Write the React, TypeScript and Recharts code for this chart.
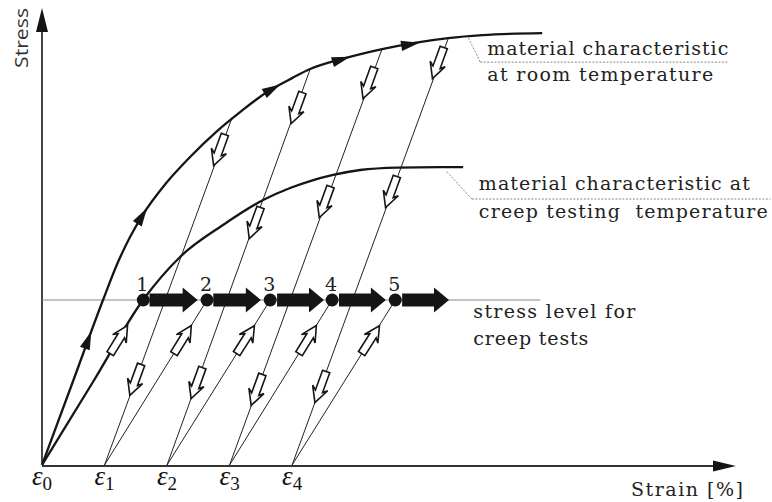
import React from 'react';
import { ComposedChart, Line, Scatter, XAxis, YAxis, ReferenceLine } from 'recharts';

// strain: one unit = one permanent-strain step ε_i; stress: creep level = 100
const epsTicks = [0, 1, 2, 3, 4];

// material characteristic at room temperature
const roomStrain = [0, 0.48, 0.976, 1.216, 1.408, 1.6, 2.0, 2.368, 2.8, 3.168, 3.6, 4.0, 4.288, 4.8, 5.44, 6.496, 7.04, 8.0];
const roomStress = [0, 49.1, 100, 123, 138.2, 150.9, 171.5, 186.7, 202.4, 213.9, 226.1, 234.5, 240, 246.1, 252.1, 258.8, 260.6, 261.8];

// material characteristic at creep testing temperature
const hotStrain = [0, 0.81, 1.616, 2.208, 2.896, 3.536, 3.968, 4.288, 4.656, 5.088, 5.68, 6.368, 6.736];
const hotStress = [0, 50, 100, 126.1, 145.5, 160.6, 167.9, 172.1, 175.8, 178.8, 180.3, 180.6, 180.6];

const stressLevel = 100;
const stressLineEnd = 7.97;

// creep test points 1..5
const testStrain = [1.62, 2.64, 3.65, 4.64, 5.65];

// creep increments at constant stress
const creepFrom = [1.72, 2.74, 3.76, 4.75, 5.76];
const creepTo = [2.49, 3.5, 4.51, 5.5, 6.51];

// elastic unloading at room temperature: upper curve -> ε1..ε4
const unloadTopStrain = [3.04, 4.29, 5.44, 6.5];
const unloadTopStress = [210.5, 240, 252.3, 258.8];

// hollow arrows: [tail strain, tail stress, head strain, head stress]
const unloadArrows = [
  [2.92, 199.8, 2.75, 182.0],
  [1.58, 60.4, 1.41, 42.7],
  [4.16, 225.2, 3.99, 207.5],
  [3.49, 155.5, 3.32, 137.8],
  [2.56, 58.5, 2.39, 40.8],
  [5.31, 240.4, 5.14, 222.6],
  [4.61, 168.2, 4.44, 150.5],
  [3.52, 54.4, 3.35, 36.6],
  [6.42, 252.5, 6.25, 234.8],
  [5.67, 174.3, 5.5, 156.6],
  [4.54, 56.1, 4.37, 38.4],
];
const reloadArrows = [
  [1.1, 68, 1.36, 84],
  [2.12, 68, 2.38, 84],
  [3.12, 68, 3.39, 84],
  [4.12, 68, 4.38, 84],
  [5.12, 68, 5.39, 84],
];

// loading direction marks on the room temperature curve
const curveArrows = [
  [0.686, 70.7, 0.786, 80.8],
  [1.52, 146.0, 1.68, 155.8],
  [3.555, 225.2, 3.805, 230.5],
  [4.646, 244.2, 4.922, 247.4],
  [5.746, 254.1, 6.03, 255.9],
];

// leader lines for the curve captions
const roomLeader = [[6.82, 258.8], [7.01, 244.2], [10.98, 244.2]];
const hotLeader = [[6.475, 177.8], [6.875, 161.2], [11.65, 161.2]];

const toPoints = (xs: number[], ys: number[]) => xs.map((x, i) => ({ x, y: ys[i] }));
const seg = (a: number[], b: number[]) => [{ x: a[0], y: a[1] }, { x: b[0], y: b[1] }];

const roomCurve = toPoints(roomStrain, roomStress);
const hotCurve = toPoints(hotStrain, hotStress);
const testPoints = testStrain.map((x, i) => ({ x, y: stressLevel, n: i + 1 }));

const INK = '#151515';
const SERIF = '"DejaVu Serif", serif';

const poly = (pts: number[][]) => pts.map((p) => p.join(',')).join(' ');
const angleOf = (p: any) => (Math.atan2(p.y2 - p.y1, p.x2 - p.x1) * 180) / Math.PI;

function HollowArrow(p: any) {
  const cx = (p.x1 + p.x2) / 2;
  const cy = (p.y1 + p.y2) / 2;
  const t = 16.5;
  const b = t - 12;
  const pts = [[-t, -3.8], [b, -3.8], [b - 3.5, -8], [t, 0], [b - 3.5, 8], [b, 3.8], [-t, 3.8]];
  return (
    <polygon
      points={poly(pts)}
      transform={`translate(${cx} ${cy}) rotate(${angleOf(p)})`}
      fill="#fff"
      stroke={INK}
      strokeWidth={1.6}
    />
  );
}

function CreepArrow(p: any) {
  const len = Math.hypot(p.x2 - p.x1, p.y2 - p.y1);
  const h = len - 15;
  const pts = [[0, -6.5], [h, -6.5], [h, -12.5], [len, 0], [h, 12.5], [h, 6.5], [0, 6.5]];
  return (
    <polygon
      points={poly(pts)}
      transform={`translate(${p.x1} ${p.y1}) rotate(${angleOf(p)})`}
      fill={INK}
    />
  );
}

function CurveHead(p: any) {
  const cx = (p.x1 + p.x2) / 2;
  const cy = (p.y1 + p.y2) / 2;
  return (
    <polygon
      points={poly([[9.5, 0], [-9, -5.2], [-9, 5.2]])}
      transform={`translate(${cx} ${cy}) rotate(${angleOf(p)})`}
      fill={INK}
    />
  );
}

function Caption({ x, y, width, children }: any) {
  return (
    <text
      x={x}
      y={y}
      fontFamily={SERIF}
      fontSize={19}
      fill="#222"
      textLength={width}
      lengthAdjust="spacing"
      style={{ whiteSpace: 'pre' }}
    >
      {children}
    </text>
  );
}

function RoomCaption(p: any) {
  return (
    <g>
      <line x1={p.x1} y1={p.y1} x2={p.x2} y2={p.y2} stroke="#888" strokeWidth={1} strokeDasharray="2 1.5" />
      <Caption x={p.x1 + 7} y={p.y1 - 7} width={241}>material characteristic</Caption>
      <Caption x={p.x1 + 7} y={p.y1 + 19} width={226}>at room temperature</Caption>
    </g>
  );
}

function HotCaption(p: any) {
  return (
    <g>
      <line x1={p.x1} y1={p.y1} x2={p.x2} y2={p.y2} stroke="#888" strokeWidth={1} strokeDasharray="2 1.5" />
      <Caption x={p.x1 + 7} y={p.y1 - 9} width={271}>material characteristic at</Caption>
      <Caption x={p.x1 + 7} y={p.y1 + 19} width={289}>creep testing  temperature</Caption>
    </g>
  );
}

function StressLevelLine(p: any) {
  return (
    <g>
      <line x1={p.x1} y1={p.y1} x2={p.x2} y2={p.y2} stroke="#8a8a8a" strokeWidth={1.2} />
      <Caption x={p.x2 - 67} y={p.y2 + 18} width={162}>stress level for</Caption>
      <Caption x={p.x2 - 67} y={p.y2 + 45} width={115}>creep tests</Caption>
    </g>
  );
}

function StressAxis(p: any) {
  return (
    <g>
      <line x1={p.x1} y1={p.y1} x2={p.x2} y2={p.y2 + 20} stroke="#444" strokeWidth={2} />
      <polygon points={poly([[p.x2, p.y2], [p.x2 - 6, p.y2 + 24], [p.x2 + 6, p.y2 + 24]])} fill={INK} />
      <text
        x={p.x2 - 14}
        y={p.y2 + 30}
        transform={`rotate(-90 ${p.x2 - 14} ${p.y2 + 30})`}
        textAnchor="middle"
        fontFamily='"Open Sans", sans-serif'
        fontSize={19}
        fill="#333"
        textLength={60}
        lengthAdjust="spacingAndGlyphs"
      >
        Stress
      </text>
    </g>
  );
}

function StrainAxis(p: any) {
  return (
    <g>
      <line x1={p.x1} y1={p.y1 + 1} x2={p.x2 - 20} y2={p.y2 + 1} stroke="#333" strokeWidth={2} />
      <polygon points={poly([[p.x2, p.y2 + 1], [p.x2 - 23, p.y2 - 4.5], [p.x2 - 23, p.y2 + 6.5]])} fill={INK} />
      <text x={p.x2 + 7} y={p.y2 + 31} textAnchor="end" fontFamily={SERIF} fontSize={19} fill="#222" textLength={112} lengthAdjust="spacing">
        Strain [%]
      </text>
    </g>
  );
}

function EpsTick({ x, y, payload }: any) {
  return (
    <text x={x} y={y + 20} textAnchor="middle" fill="#111" fontFamily='"Liberation Serif", serif'>
      <tspan fontStyle="italic" fontSize={27}>ε</tspan>
      <tspan fontSize={19} dy={5}>{payload.value}</tspan>
    </text>
  );
}

function TestPoint({ cx, cy, payload }: any) {
  return (
    <g>
      <circle cx={cx} cy={cy} r={6.5} fill={INK} />
      <text x={cx - 1} y={cy - 9} textAnchor="middle" fontFamily={SERIF} fontSize={19} fill="#222">
        {payload.n}
      </text>
    </g>
  );
}

export default function App() {
  return (
    <div style={{ position: 'absolute', left: 0, top: 0, width: 772, height: 502, background: '#fff' }}>
      <ComposedChart width={772} height={502} margin={{ top: 8, right: 36, bottom: 7, left: 42 }}>
        <XAxis
          type="number"
          dataKey="x"
          domain={[0, 11.1]}
          ticks={epsTicks}
          interval={0}
          allowDataOverflow
          axisLine={false}
          tickLine={false}
          tickSize={0}
          tickMargin={0}
          height={30}
          tick={EpsTick}
        />
        <YAxis type="number" dataKey="y" domain={[0, 277]} allowDataOverflow hide width={0} />

        <ReferenceLine segment={seg([0, 0], [0, 277])} ifOverflow="visible" shape={StressAxis} />
        <ReferenceLine segment={seg([0, 0], [11.1, 0])} ifOverflow="visible" shape={StrainAxis} />

        {unloadTopStrain.map((x, i) => (
          <ReferenceLine
            key={`un${i}`}
            segment={seg([epsTicks[i + 1], 0], [x, unloadTopStress[i]])}
            ifOverflow="visible"
            stroke="#222"
            strokeWidth={1}
          />
        ))}
        {testStrain.slice(1).map((x, i) => (
          <ReferenceLine
            key={`re${i}`}
            segment={seg([epsTicks[i + 1], 0], [x, stressLevel])}
            ifOverflow="visible"
            stroke="#222"
            strokeWidth={1}
          />
        ))}

        <ReferenceLine segment={seg(roomLeader[0], roomLeader[1])} ifOverflow="visible" stroke="#888" strokeWidth={1} strokeDasharray="2 1.5" />
        <ReferenceLine segment={seg(roomLeader[1], roomLeader[2])} ifOverflow="visible" shape={RoomCaption} />
        <ReferenceLine segment={seg(hotLeader[0], hotLeader[1])} ifOverflow="visible" stroke="#888" strokeWidth={1} strokeDasharray="2 1.5" />
        <ReferenceLine segment={seg(hotLeader[1], hotLeader[2])} ifOverflow="visible" shape={HotCaption} />
        <ReferenceLine segment={seg([0, stressLevel], [stressLineEnd, stressLevel])} ifOverflow="visible" shape={StressLevelLine} />

        <Line data={roomCurve} dataKey="y" type="monotone" stroke={INK} strokeWidth={2.3} dot={false} isAnimationActive={false} />
        <Line data={hotCurve} dataKey="y" type="monotone" stroke={INK} strokeWidth={2.3} dot={false} isAnimationActive={false} />

        {unloadArrows.concat(reloadArrows).map((a, i) => (
          <ReferenceLine key={`ha${i}`} segment={seg([a[0], a[1]], [a[2], a[3]])} ifOverflow="visible" shape={HollowArrow} />
        ))}
        {curveArrows.map((a, i) => (
          <ReferenceLine key={`ca${i}`} segment={seg([a[0], a[1]], [a[2], a[3]])} ifOverflow="visible" shape={CurveHead} />
        ))}
        {creepFrom.map((x, i) => (
          <ReferenceLine
            key={`cr${i}`}
            segment={seg([x, stressLevel], [creepTo[i], stressLevel])}
            ifOverflow="visible"
            shape={CreepArrow}
          />
        ))}

        <Scatter data={testPoints} dataKey="y" shape={TestPoint} isAnimationActive={false} />
      </ComposedChart>
    </div>
  );
}
